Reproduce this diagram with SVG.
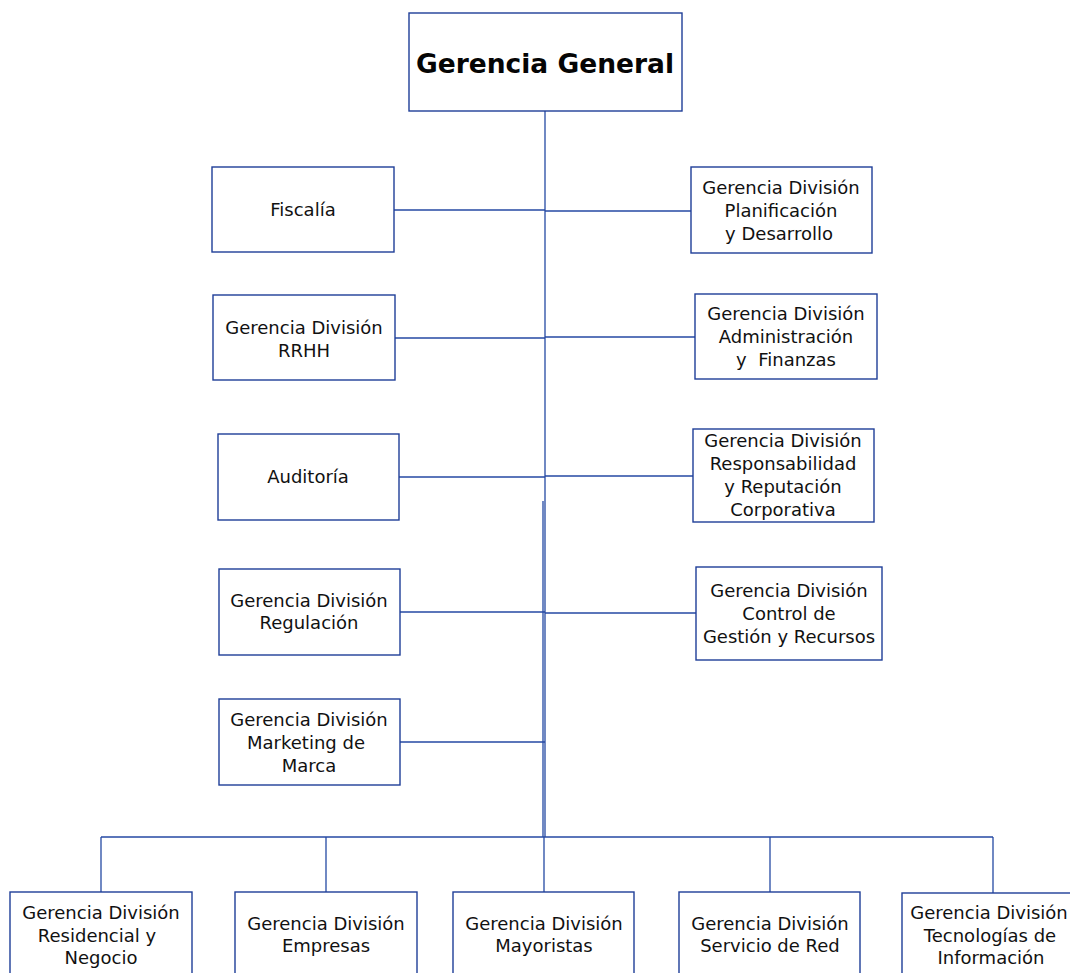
<svg xmlns="http://www.w3.org/2000/svg" width="1070" height="973" viewBox="0 0 1070 973">
<style>
.box{fill:#fff;stroke:#1f3e98;stroke-width:1.4}
.ln{stroke:#2449a3;stroke-width:1.3;fill:none}
.t{font-family:"DejaVu Sans",Verdana,sans-serif;font-size:18px;fill:#111;text-anchor:middle}
.b{font-family:"DejaVu Sans",Verdana,sans-serif;font-size:26.5px;font-weight:bold;fill:#050505;text-anchor:middle}
</style>
<rect width="1070" height="973" fill="#fff"/>
<g id="connectors">
<line class="ln" x1="545" y1="111" x2="545" y2="837"/>
<line class="ln" x1="543" y1="501" x2="543" y2="837"/>
<line class="ln" x1="394" y1="210" x2="545" y2="210"/>
<line class="ln" x1="545" y1="211" x2="691" y2="211"/>
<line class="ln" x1="395" y1="338" x2="545" y2="338"/>
<line class="ln" x1="545" y1="337" x2="695" y2="337"/>
<line class="ln" x1="399" y1="477" x2="545" y2="477"/>
<line class="ln" x1="545" y1="476" x2="693" y2="476"/>
<line class="ln" x1="400" y1="612" x2="545" y2="612"/>
<line class="ln" x1="545" y1="613" x2="696" y2="613"/>
<line class="ln" x1="400" y1="742" x2="545" y2="742"/>
<line class="ln" x1="101" y1="837" x2="993" y2="837"/>
<line class="ln" x1="101" y1="837" x2="101" y2="892"/>
<line class="ln" x1="326" y1="837" x2="326" y2="892"/>
<line class="ln" x1="544" y1="837" x2="544" y2="892"/>
<line class="ln" x1="770" y1="837" x2="770" y2="892"/>
<line class="ln" x1="993" y1="837" x2="993" y2="893"/>
</g>
<g id="gerencia-general">
<rect class="box" x="409" y="13" width="273" height="98"/>
<text class="b" x="545" y="73">Gerencia General</text>
</g>
<g id="fiscalia">
<rect class="box" x="212" y="167" width="182" height="85"/>
<text class="t" x="303" y="216">Fiscalía</text>
</g>
<g id="planificacion">
<rect class="box" x="691" y="167" width="181" height="86"/>
<text class="t" x="781" y="194">Gerencia División</text>
<text class="t" x="781" y="217">Planificación</text>
<text class="t" x="779" y="240">y Desarrollo</text>
</g>
<g id="rrhh">
<rect class="box" x="213" y="295" width="182" height="85"/>
<text class="t" x="304" y="334">Gerencia División</text>
<text class="t" x="304" y="357">RRHH</text>
</g>
<g id="administracion">
<rect class="box" x="695" y="294" width="182" height="85"/>
<text class="t" x="786" y="320">Gerencia División</text>
<text class="t" x="786" y="343">Administración</text>
<text class="t" x="786" y="366" xml:space="preserve">y  Finanzas</text>
</g>
<g id="auditoria">
<rect class="box" x="218" y="434" width="181" height="86"/>
<text class="t" x="308" y="483">Auditoría</text>
</g>
<g id="responsabilidad">
<rect class="box" x="693" y="429" width="181" height="93"/>
<text class="t" x="783" y="447">Gerencia División</text>
<text class="t" x="783" y="470">Responsabilidad</text>
<text class="t" x="783" y="493">y Reputación</text>
<text class="t" x="783" y="516">Corporativa</text>
</g>
<g id="regulacion">
<rect class="box" x="219" y="569" width="181" height="86"/>
<text class="t" x="309" y="607">Gerencia División</text>
<text class="t" x="309" y="629">Regulación</text>
</g>
<g id="control-gestion">
<rect class="box" x="696" y="567" width="186" height="93"/>
<text class="t" x="789" y="597">Gerencia División</text>
<text class="t" x="789" y="620">Control de</text>
<text class="t" x="789" y="643">Gestión y Recursos</text>
</g>
<g id="marketing">
<rect class="box" x="219" y="699" width="181" height="86"/>
<text class="t" x="309" y="726">Gerencia División</text>
<text class="t" x="306" y="749">Marketing de</text>
<text class="t" x="309" y="772">Marca</text>
</g>
<g id="residencial">
<rect class="box" x="10" y="892" width="182" height="90"/>
<text class="t" x="101" y="919">Gerencia División</text>
<text class="t" x="97" y="942">Residencial y</text>
<text class="t" x="101" y="964">Negocio</text>
</g>
<g id="empresas">
<rect class="box" x="235" y="892" width="182" height="90"/>
<text class="t" x="326" y="930">Gerencia División</text>
<text class="t" x="326" y="952">Empresas</text>
</g>
<g id="mayoristas">
<rect class="box" x="453" y="892" width="181" height="90"/>
<text class="t" x="544" y="930">Gerencia División</text>
<text class="t" x="544" y="952">Mayoristas</text>
</g>
<g id="servicio-red">
<rect class="box" x="679" y="892" width="181" height="90"/>
<text class="t" x="770" y="930">Gerencia División</text>
<text class="t" x="770" y="952">Servicio de Red</text>
</g>
<g id="tecnologias">
<rect class="box" x="902" y="893" width="178" height="90"/>
<text class="t" x="989" y="919">Gerencia División</text>
<text class="t" x="990" y="942">Tecnologías de</text>
<text class="t" x="991" y="964">Información</text>
</g>
</svg>
